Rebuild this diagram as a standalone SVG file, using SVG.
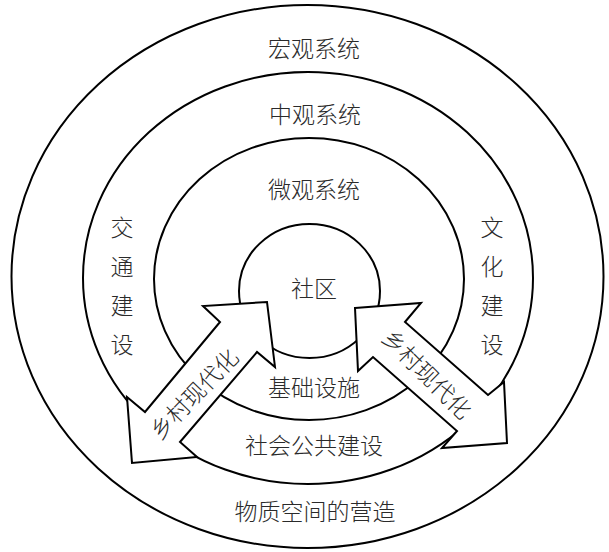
<svg xmlns="http://www.w3.org/2000/svg" width="609" height="552" viewBox="0 0 609 552">
<style>
.ring{fill:none;stroke:#000;stroke-width:2}
.arrow{fill:#fff;stroke:#000;stroke-width:2;stroke-linejoin:miter}
.t{font-family:"Noto Sans CJK SC","Noto Sans CJK JP",sans-serif;font-size:23px;font-weight:300;fill:#2a2a2a;text-anchor:middle;dominant-baseline:central}
</style>
<rect width="609" height="552" fill="#fff"/>
<g id="macro">
<ellipse class="ring" cx="307.5" cy="276.5" rx="296" ry="271.5"/>
<text class="t" x="314" y="47">宏观系统</text>
<text class="t" x="315" y="510">物质空间的营造</text>
</g>
<g id="meso">
<ellipse class="ring" cx="308" cy="278" rx="225" ry="206"/>
<text class="t" x="315" y="113">中观系统</text>
<text class="t" x="314" y="444">社会公共建设</text>
</g>
<g id="micro">
<ellipse class="ring" cx="309" cy="279" rx="155" ry="141"/>
<text class="t" x="314" y="188">微观系统</text>
</g>
<g id="community">
<ellipse class="ring" cx="309.5" cy="291" rx="70.5" ry="67"/>
<text class="t" x="314" y="287">社区</text>
</g>
<g id="connectors">
<g id="arrow-left">
<polygon class="arrow" points="267,302 275,367 257,352 180,442 197,457 132,463 127,397 145,412 220,322 203,306"/>
<text class="t" transform="translate(193,393) rotate(-46)" x="0" y="0">乡村现代化</text>
</g>
<g id="arrow-right">
<polygon class="arrow" points="355,308 421,303 405,322 488,395 504,382 507,443 442,448 457,431 373,357 358,371"/>
<text class="t" transform="translate(428,373) rotate(45)" x="0" y="0">乡村现代化</text>
</g>
</g>
<g id="infrastructure">
<text class="t" x="314" y="386">基础设施</text>
</g>
<g id="transport">
<text class="t" x="122" y="226">交</text>
<text class="t" x="122" y="265">通</text>
<text class="t" x="122" y="304">建</text>
<text class="t" x="122" y="343">设</text>
</g>
<g id="culture">
<text class="t" x="492" y="226">文</text>
<text class="t" x="492" y="265">化</text>
<text class="t" x="492" y="304">建</text>
<text class="t" x="492" y="343">设</text>
</g>
</svg>
